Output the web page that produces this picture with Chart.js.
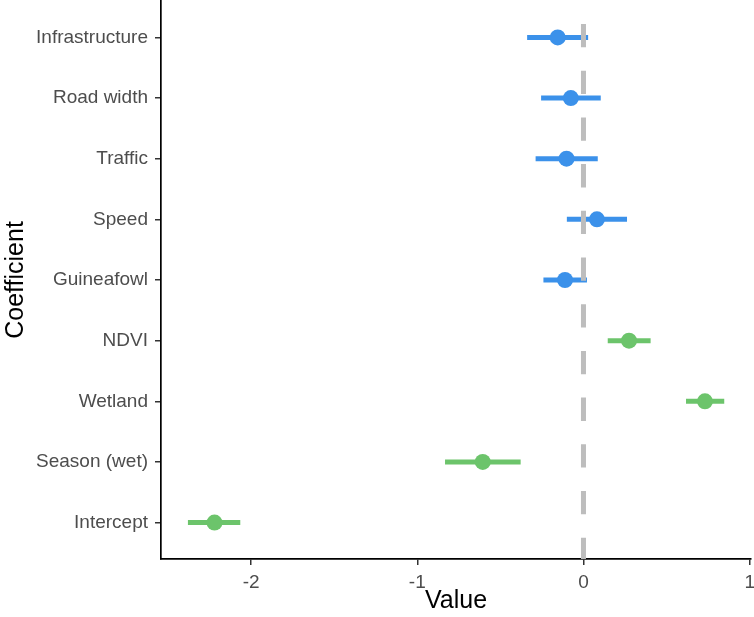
<!DOCTYPE html>
<html>
<head>
<meta charset="utf-8">
<script src="https://cdn.jsdelivr.net/npm/chart.js@4.4.1/dist/chart.umd.min.js"></script>
<style>
  body { margin: 0; background: #fff; }
  #wrap { width: 754px; height: 617px; position: relative; }
</style>
</head>
<body>
<div id="wrap"><canvas id="grafico"></canvas></div>
<script>
// Coeficientes (de baixo para cima, como no eixo)
const nomes = ['Intercept', 'Season (wet)', 'Wetland', 'NDVI', 'Guineafowl', 'Speed', 'Traffic', 'Road width', 'Infrastructure'];
const estimativa = [-2.22, -0.606, 0.731, 0.274, -0.111, 0.081, -0.102, -0.076, -0.155];
const inferior   = [-2.38, -0.833, 0.617, 0.146, -0.241, -0.100, -0.288, -0.255, -0.339];
const superior   = [-2.065, -0.378, 0.847, 0.404, 0.021, 0.262, 0.086, 0.104, 0.028];
const grupo      = ['hab', 'hab', 'hab', 'hab', 'road', 'road', 'road', 'road', 'road'];
const ticksX = [-2, -1, 0, 1];

const cores = { hab: '#6cc46b', road: '#3b91ea' };
const fonte = '"Liberation Sans", Arial, Helvetica, sans-serif';

// barras de erro: uma linha por coeficiente
const barras = nomes.map((n, i) => ({
    type: 'line',
    data: [{ x: inferior[i], y: i }, { x: superior[i], y: i }],
    borderColor: cores[grupo[i]],
    borderWidth: 5,
    borderCapStyle: 'butt',
    pointRadius: 0,
    order: 2
}));

const pontos = {
    type: 'scatter',
    data: estimativa.map((v, i) => ({ x: v, y: i })),
    pointBackgroundColor: grupo.map(g => cores[g]),
    pointBorderWidth: 0,
    pointRadius: 8,
    order: 1
};

// linha tracejada no zero
const linhaZero = {
    type: 'line',
    data: [{ x: 0, y: 8.6 }, { x: 0, y: -0.6 }],
    borderColor: '#bdbdbd',
    borderWidth: 5,
    borderDash: [23.3, 23.4],
    borderDashOffset: 23.7,
    borderCapStyle: 'butt',
    pointRadius: 0,
    order: 0
};

new Chart(document.getElementById('grafico').getContext('2d'), {
    type: 'scatter',
    data: { datasets: [linhaZero, pontos, ...barras] },
    options: {
        responsive: true,
        maintainAspectRatio: false,
        animation: false,
        layout: { autoPadding: false, padding: { top: 1, right: 3, left: 0, bottom: 0 } },
        plugins: { legend: { display: false }, tooltip: { enabled: false } },
        scales: {
            x: {
                type: 'linear',
                min: -2.542,
                max: 1.008,
                afterBuildTicks: s => { s.ticks = ticksX.map(v => ({ value: v })); },
                afterFit: s => { s.height = 58; s.paddingLeft = 0; s.paddingRight = 0; },
                grid: { drawOnChartArea: false, drawTicks: true, tickLength: 6, color: '#333', lineWidth: 1.5 },
                border: { display: true, color: '#000', width: 1.7 },
                ticks: { color: '#4d4d4d', font: { family: fonte, size: 19 }, padding: 6, maxRotation: 0 },
                title: { display: true, text: 'Value', color: '#000', font: { family: fonte, size: 25 }, padding: { top: 0, bottom: 1 } }
            },
            y: {
                type: 'linear',
                min: -0.6,
                max: 8.6,
                afterBuildTicks: s => { s.ticks = nomes.map((n, i) => ({ value: i })); },
                afterFit: s => { s.width = 161; s.paddingTop = 0; s.paddingBottom = 0; },
                grid: { drawOnChartArea: false, drawTicks: true, tickLength: 6, color: '#333', lineWidth: 1.5 },
                border: { display: true, color: '#000', width: 1.7 },
                ticks: {
                    color: '#4d4d4d',
                    font: { family: fonte, size: 19 },
                    padding: 7,
                    callback: v => nomes[v]
                },
                title: { display: true, text: 'Coefficient', color: '#000', font: { family: fonte, size: 25 }, padding: { top: 1, bottom: 0 } }
            }
        }
    }
});
</script>
</body>
</html>
